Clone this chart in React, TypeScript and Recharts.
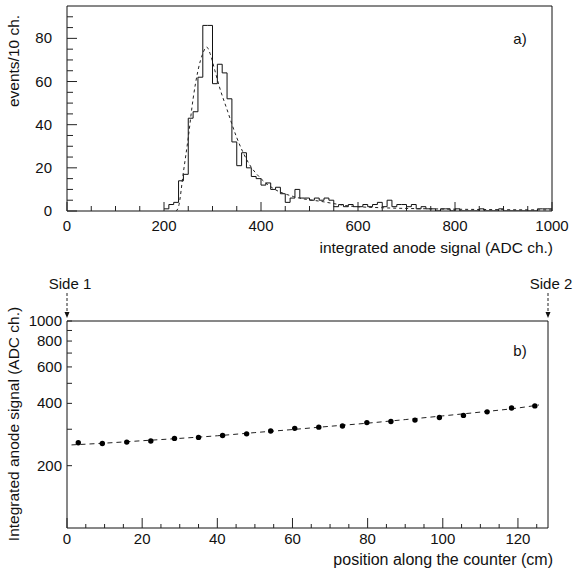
import React from "react";
import {
  ComposedChart,
  Line,
  Scatter,
  XAxis,
  YAxis,
  ReferenceArea,
} from "recharts";

// panel a) histogram, 10 ch. bins starting at 200
const HIST_START = 200;
const HIST_BIN = 10;
const histCounts = [
  1, 3, 4, 14, 17, 43, 46, 62, 86, 86,
  59, 68, 64, 52, 32, 21, 27, 20, 16, 15,
  12, 13, 10, 11, 8, 4, 6, 10, 6, 6,
  5, 6, 5, 6, 5, 2, 3, 2, 3, 2,
  2, 3, 2, 3, 4, 2, 5, 2, 3, 3,
  2, 3, 1, 2, 1, 1, 0, 1, 1, 0,
  1, 0, 0, 0, 0, 1, 0, 0, 0, 1,
  0, 0, 0, 0, 0, 0, 0, 1, 1, 1,
];

// panel a) fit curve (dashed)
const fitAdc = [225, 230, 240, 250, 260, 270, 280, 288, 295, 305, 315, 330, 350, 375, 400, 425, 467, 528, 583, 650, 750, 850, 1000];
const fitEvents = [0, 2, 18, 34, 52, 65, 73, 76, 73, 65, 57, 47, 34, 22, 15, 10.5, 6.7, 4.3, 2.3, 1.5, 1, 0.7, 0.5];

const topXTicks = [0, 50, 100, 150, 200, 250, 300, 350, 400, 450, 500, 550, 600, 650, 700, 750, 800, 850, 900, 950, 1000];
const topYTicks = [0, 5, 10, 15, 20, 25, 30, 35, 40, 45, 50, 55, 60, 65, 70, 75, 80, 85, 90];

// panel b) position scan
const positions = [3.0, 9.4, 15.9, 22.3, 28.6, 35.0, 41.4, 47.8, 54.2, 60.6, 67.0, 73.3, 79.8, 86.2, 92.6, 99.1, 105.5, 111.8, 118.3, 124.5];
const signals = [258, 256, 260, 263, 271, 274, 280, 285, 294, 303, 307, 311, 323, 327, 332, 342, 350, 364, 380, 389];

const posFitX = [1.2, 10, 20, 30, 40, 50, 60, 70, 80, 90, 100, 110, 120, 125.6];
const posFitY = [252, 257, 264, 271, 279, 289, 299, 310, 321, 334, 348, 363, 380, 393];

const botXTicks = [0, 5, 10, 15, 20, 25, 30, 35, 40, 45, 50, 55, 60, 65, 70, 75, 80, 85, 90, 95, 100, 105, 110, 115, 120, 125];
const botYTicks = [200, 300, 400, 500, 600, 700, 800, 900, 1000];

const histData = histCounts.map((c, i) => ({ x: HIST_START + i * HIST_BIN, y: c }));
histData.push({ x: HIST_START + histCounts.length * HIST_BIN, y: histCounts[histCounts.length - 1] });
const fitData = fitAdc.map((x, i) => ({ x, y: fitEvents[i] }));
const pointData = positions.map((x, i) => ({ x, y: signals[i] }));
const posFitData = posFitX.map((x, i) => ({ x, y: posFitY[i] }));

const FONT = "'Liberation Sans', Arial, Helvetica, sans-serif";
const txt = { fontFamily: FONT, fontSize: 15, fill: "#111" };
const title = { fontFamily: FONT, fontSize: 15.5, fill: "#111" };

const TopXTick = (props: any) => {
  const { x, y, payload } = props;
  const major = payload.value % 200 === 0;
  return (
    <g>
      <line x1={x} y1={y} x2={x} y2={y - (major ? 9 : 5)} stroke="#222" />
      {major && (
        <text x={x} y={y + 20} textAnchor="middle" style={txt}>
          {payload.value}
        </text>
      )}
    </g>
  );
};

const TopYTick = (props: any) => {
  const { x, y, payload } = props;
  const major = payload.value % 20 === 0;
  return (
    <g>
      <line x1={x} y1={y} x2={x + (major ? 10 : 6)} y2={y} stroke="#222" />
      {major && (
        <text x={x - 15} y={y + 5} textAnchor="end" style={txt}>
          {payload.value}
        </text>
      )}
    </g>
  );
};

const BotXTick = (props: any) => {
  const { x, y, payload } = props;
  const major = payload.value % 20 === 0;
  return (
    <g>
      <line x1={x} y1={y} x2={x} y2={y - (major ? 10 : 4)} stroke="#222" />
      {major && (
        <text x={x} y={y + 16} textAnchor="middle" style={txt}>
          {payload.value}
        </text>
      )}
    </g>
  );
};

const BotYTick = (props: any) => {
  const { x, y, payload } = props;
  const labelled = payload.value % 200 === 0;
  return (
    <g>
      <line x1={x} y1={y} x2={x + 5} y2={y} stroke="#222" />
      {labelled && (
        <text x={x - 5} y={y + 5} textAnchor="end" style={txt}>
          {payload.value}
        </text>
      )}
    </g>
  );
};

const Dot = (props: any) => <circle cx={props.cx} cy={props.cy} r={2.7} fill="#000" />;

export default function App() {
  return (
    <div style={{ position: "absolute", left: 0, top: 0, width: 574, height: 573, background: "#fff" }}>
      <div style={{ position: "absolute", left: 0, top: 0 }}>
        <ComposedChart width={574} height={250} margin={{ top: 6, right: 22, bottom: 9, left: 7 }}>
          <XAxis
            type="number"
            dataKey="x"
            domain={[0, 1000]}
            ticks={topXTicks}
            interval={0}
            height={30}
            tickSize={0}
            tickMargin={0}
            axisLine={false}
            tickLine={false}
            tick={<TopXTick />}
          />
          <YAxis
            type="number"
            dataKey="y"
            domain={[0, 95]}
            allowDataOverflow
            ticks={topYTicks}
            interval={0}
            width={60}
            tickSize={0}
            tickMargin={0}
            axisLine={false}
            tickLine={false}
            tick={<TopYTick />}
          />
          <Line
            data={histData}
            dataKey="y"
            type="stepAfter"
            stroke="#111"
            strokeWidth={1}
            dot={false}
            isAnimationActive={false}
          />
          <Line
            data={fitData}
            dataKey="y"
            type="monotone"
            stroke="#222"
            strokeWidth={1}
            strokeDasharray="3 3"
            dot={false}
            isAnimationActive={false}
          />
          <ReferenceArea x1={0} x2={1000} y1={0} y2={95} fill="none" stroke="#111" strokeWidth={1} />
        </ComposedChart>
      </div>
      <div style={{ position: "absolute", left: 0, top: 0 }}>
        <ComposedChart width={574} height={573} margin={{ top: 321, right: 26, bottom: 15, left: 7 }}>
          <XAxis
            type="number"
            dataKey="x"
            domain={[0, 128]}
            allowDataOverflow
            ticks={botXTicks}
            interval={0}
            height={30}
            tickSize={0}
            tickMargin={0}
            axisLine={false}
            tickLine={false}
            tick={<BotXTick />}
          />
          <YAxis
            type="number"
            dataKey="y"
            scale="log"
            domain={[100, 1000]}
            allowDataOverflow
            ticks={botYTicks}
            interval={0}
            width={60}
            tickSize={0}
            tickMargin={0}
            axisLine={false}
            tickLine={false}
            tick={<BotYTick />}
          />
          <Line
            data={posFitData}
            dataKey="y"
            type="monotone"
            stroke="#222"
            strokeWidth={1}
            strokeDasharray="5 4"
            dot={false}
            isAnimationActive={false}
          />
          <Scatter data={pointData} dataKey="y" fill="#000" shape={Dot} isAnimationActive={false} />
          <ReferenceArea x1={0} x2={128} y1={100} y2={1000} fill="none" stroke="#111" strokeWidth={1} />
        </ComposedChart>
      </div>
      <svg width={574} height={573} style={{ position: "absolute", left: 0, top: 0, pointerEvents: "none" }}>
        <text x={19} y={61} transform="rotate(-90 19 61)" textAnchor="middle" style={title}>
          events/10 ch.
        </text>
        <text x={553} y={253} textAnchor="end" style={title}>
          integrated anode signal (ADC ch.)
        </text>
        <text x={520} y={44} textAnchor="middle" style={txt}>
          a)
        </text>
        <text x={19} y={424} transform="rotate(-90 19 424)" textAnchor="middle" style={title}>
          Integrated anode signal (ADC ch.)
        </text>
        <text x={553} y={565} textAnchor="end" style={{ ...title, fontSize: 16 }}>
          position along the counter (cm)
        </text>
        <text x={520} y={356} textAnchor="middle" style={txt}>
          b)
        </text>
        <text x={70} y={289} textAnchor="middle" style={txt}>
          Side 1
        </text>
        <line x1={67} y1={293} x2={67} y2={313} stroke="#222" strokeDasharray="3 2" />
        <polygon points="64.5,312 69.5,312 67,318" fill="#111" />
        <text x={551} y={289} textAnchor="middle" style={txt}>
          Side 2
        </text>
        <line x1={548} y1={293} x2={548} y2={313} stroke="#222" strokeDasharray="3 2" />
        <polygon points="545.5,312 550.5,312 548,318" fill="#111" />
      </svg>
    </div>
  );
}
